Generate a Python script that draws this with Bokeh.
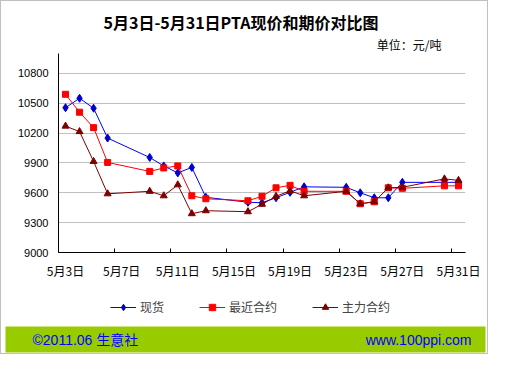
from bokeh.plotting import figure
from bokeh.models import FixedTicker, Label, Legend, LegendItem, BoxAnnotation, Range1d, Title
from bokeh.layouts import column
from bokeh.embed import file_html
from bokeh.resources import INLINE

# ---- data (May 2011, trading days) ----
days = [3, 4, 5, 6, 9, 10, 11, 12, 13, 16, 17, 18, 19, 20, 23, 24, 25, 26, 27, 30, 31]
spot = [10455, 10550, 10450, 10150, 9955, 9870, 9800, 9855, 9555, 9505, 9500,
        9550, 9605, 9660, 9655, 9600, 9550, 9550, 9705, 9705, 9705]
near = [10590, 10410, 10255, 9905, 9815, 9850, 9870, 9570, 9540, 9520, 9565,
        9650, 9675, 9615, 9615, 9490, 9510, 9650, 9645, 9670, 9670]
main = [10270, 10215, 9915, 9590, 9615, 9570, 9680, 9390, 9420, 9410, 9485,
        9565, 9620, 9570, 9615, 9490, 9510, 9650, 9655, 9740, 9725]
series_names = ["现货", "最近合约", "主力合约"]
tick_days = [3, 7, 11, 15, 19, 23, 27, 31]
tick_labels = ["5月3日", "5月7日", "5月11日", "5月15日", "5月19日", "5月23日", "5月27日", "5月31日"]
y_ticks = [9000, 9300, 9600, 9900, 10200, 10500, 10800]
title_text = "5月3日-5月31日PTA现价和期价对比图"
unit_text = "单位：元/吨"
footer_left = "©2011.06 生意社"
footer_right = "www.100ppi.com"

# ---- geometry ----
W = 488
H_MAIN, H_FOOT = 281, 73
BL, BR, BT, BB = 57, 24, 52, 30
X0, X1 = 2.5, 31.5
Y0, Y1 = 9000, 11000
BORDER = "1px solid #c0c0c0"

CJK = "Noto Sans CJK SC"
LAT = "'Liberation Sans', 'Noto Sans CJK SC'"

series_style = [
    dict(color="#0000FF", mcolor="#0000CC", marker="diamond", size=8),
    dict(color="#FF0000", mcolor="#FF0000", marker="square", size=6),
    dict(color="#800000", mcolor="#800000", marker="triangle", size=7),
]

p = figure(width=W, height=H_MAIN, x_range=Range1d(X0, X1), y_range=Range1d(Y0, Y1),
           output_backend="svg", toolbar_location=None,
           min_border_left=BL, min_border_right=BR, min_border_top=BT, min_border_bottom=BB,
           background_fill_color="white", border_fill_color="white", outline_line_color=None)
p.styles = {"border": BORDER, "border-bottom": "none"}

# titles (first added sits closest to the frame)
p.add_layout(Title(text=unit_text, align="right", offset=24, standoff=0,
                   vertical_align="middle", text_font=CJK, text_font_size="12px",
                   text_font_style="normal", text_color="black"), "above")
p.add_layout(Title(text=title_text, align="left", offset=45, standoff=0,
                   vertical_align="middle", text_font=CJK, text_font_size="16px",
                   text_font_style="bold", text_color="black"), "above")

# axes
p.xgrid.visible = False
p.ygrid.ticker = FixedTicker(ticks=y_ticks)
p.ygrid.grid_line_color = "#c0c0c0"
p.ygrid.grid_line_width = 1

p.yaxis.ticker = FixedTicker(ticks=y_ticks)
p.yaxis.major_tick_line_color = None
p.yaxis.minor_tick_line_color = None
p.yaxis.major_tick_in = 0
p.yaxis.major_tick_out = 0
p.yaxis.major_label_standoff = 10
p.yaxis.axis_line_color = "black"
p.yaxis.major_label_text_font = LAT
p.yaxis.major_label_text_font_size = "11px"
p.yaxis.major_label_text_color = "black"

p.xaxis.ticker = FixedTicker(ticks=tick_days, minor_ticks=[d - 0.5 for d in tick_days])
p.xaxis.major_label_overrides = {d: t for d, t in zip(tick_days, tick_labels)}
p.xaxis.major_tick_line_color = None
p.xaxis.major_tick_in = 0
p.xaxis.major_tick_out = 0
p.xaxis.minor_tick_line_color = "black"
p.xaxis.minor_tick_in = 4
p.xaxis.minor_tick_out = 0
p.xaxis.major_label_standoff = 9
p.xaxis.axis_line_color = "black"
p.xaxis.major_label_text_font = CJK
p.xaxis.major_label_text_font_size = "12px"
p.xaxis.major_label_text_color = "black"

# series
for ys, st in zip([spot, near, main], series_style):
    p.line(days, ys, line_color=st["color"], line_width=1)
    p.scatter(days, ys, marker=st["marker"], size=st["size"],
              fill_color=st["mcolor"], line_color=st["mcolor"])

# footer: legend + green band
f = figure(width=W, height=H_FOOT, x_range=Range1d(0, W), y_range=Range1d(H_FOOT, 0),
           output_backend="svg", toolbar_location=None,
           min_border=0, min_border_left=0, min_border_right=0, min_border_top=0, min_border_bottom=0,
           background_fill_color="white", border_fill_color="white", outline_line_color=None,
           x_axis_type=None, y_axis_type=None)
f.grid.visible = False
f.styles = {"border": BORDER, "border-top": "none"}

items = []
for name, ys, st in zip(series_names, [spot, near, main], series_style):
    # hidden copies of the series, used only as legend keys
    lr = f.line(days, ys, line_color=st["color"], line_width=1, visible=False)
    sr = f.scatter(days, ys, marker=st["marker"], size=st["size"],
                   fill_color=st["mcolor"], line_color=st["mcolor"], visible=False)
    items.append(LegendItem(label=name, renderers=[lr, sr]))

legend = Legend(items=items, location=(109, 39), orientation="horizontal",
                glyph_width=26, glyph_height=16, label_height=16, label_standoff=4,
                spacing=35, padding=0, margin=0, border_line_color=None,
                background_fill_alpha=0, inactive_fill_alpha=0,
                label_text_font=CJK, label_text_font_size="12px", click_policy="none")
f.add_layout(legend)

f.add_layout(BoxAnnotation(left=4, right=484, top=45, bottom=71,
                           fill_color="#99CC00", fill_alpha=1, line_color=None))
f.add_layout(Label(x=31, y=58, text=footer_left, text_align="left",
                   text_baseline="middle", text_font=LAT, text_font_size="14px",
                   text_color="#0000FF"))
f.add_layout(Label(x=470, y=58, text=footer_right, text_align="right",
                   text_baseline="middle", text_font=LAT, text_font_size="14px",
                   text_color="#0000FF"))

for fig in (p, f):
    try:
        fig.frame_align = False
    except Exception:
        pass

layout = column(p, f, spacing=0)
open("out.html", "w").write(file_html(layout, INLINE))
